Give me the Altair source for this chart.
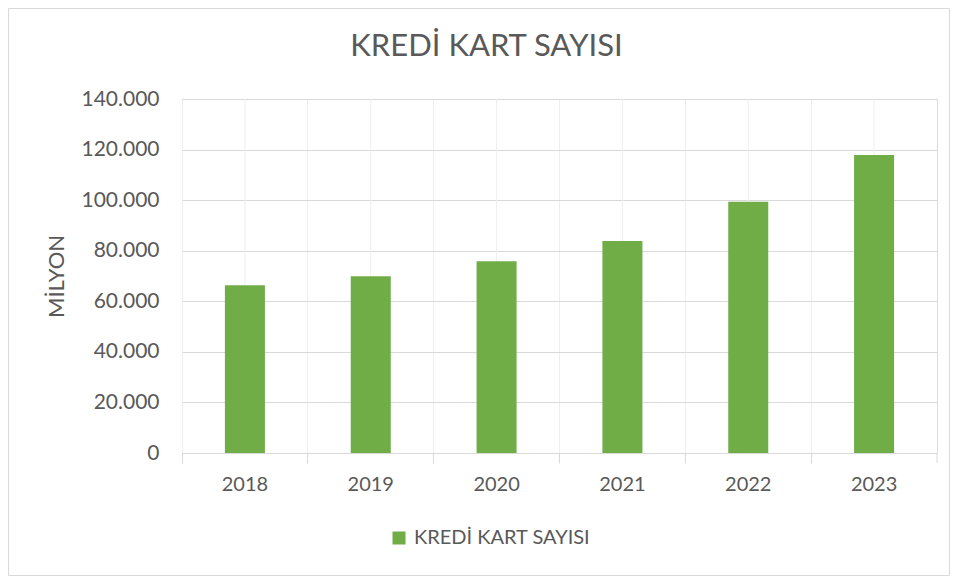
import altair as alt
import pandas as pd

years = ["2018", "2019", "2020", "2021", "2022", "2023"]
values = [66300, 69900, 75800, 83800, 99400, 117900]
series_name = "KREDİ KART SAYISI"
chart_title = "KREDİ KART SAYISI"
y_ticks = [0, 20000, 40000, 60000, 80000, 100000, 120000, 140000]

df = pd.DataFrame({"year": years, "value": values, "series": [series_name] * len(years)})
one = pd.DataFrame({"k": [0]})

W, H = 755, 354
TEXT = "#595959"
FONT = "Lato"

x_axis = alt.Axis(
    title=None,
    bandPosition=0,
    labelAngle=0,
    labelFontSize=20,
    labelColor=TEXT,
    labelFont=FONT,
    labelPadding=11,
    tickSize=10,
    tickColor="#d9d9d9",
    domainColor="#d9d9d9",
    grid=True,
    gridColor="#eeeeee",
)
x_scale = alt.Scale(domain=years, paddingInner=0, paddingOuter=0)

center_grid = alt.Chart(df).mark_rule(color="#eeeeee", strokeWidth=1).encode(
    x=alt.X("year:N", scale=x_scale, axis=x_axis, sort=years),
    y=alt.value(0),
    y2=alt.value(H),
)

bars = alt.Chart(df).mark_bar(width={"band": 0.318}).encode(
    x=alt.X("year:N", scale=x_scale, axis=x_axis, sort=years),
    y=alt.Y(
        "value:Q",
        scale=alt.Scale(domain=[0, 140000], nice=False),
        axis=alt.Axis(
            values=y_ticks,
            labelExpr="replace(format(datum.value, ','), ',', '.')",
            labelFontSize=21,
            labelColor=TEXT,
            labelFont=FONT,
            labelPadding=23,
            ticks=False,
            domain=False,
            gridColor="#d9d9d9",
            title="MİLYON",
            titleFont=FONT,
            titleFontSize=22,
            titleFontWeight="normal",
            titleColor=TEXT,
            titleAngle=270,
            titleX=-126,
            titleY=177,
            titleAlign="center",
            titleBaseline="middle",
        ),
    ),
    color=alt.Color(
        "series:N",
        scale=alt.Scale(domain=[series_name], range=["#70AD47"]),
        legend=alt.Legend(
            title=None,
            orient="none",
            legendX=207,
            legendY=429,
            symbolType="square",
            symbolSize=169,
            symbolStrokeWidth=0,
            labelFontSize=20,
            labelColor=TEXT,
            labelFont=FONT,
            labelOffset=5,
            labelLimit=0,
        ),
    ),
)

end_tick = alt.Chart(one).mark_rule(color="#d9d9d9").encode(
    x=alt.value(W), y=alt.value(H), y2=alt.value(H + 10)
)

border = alt.Chart(one).mark_rect(fill=None, stroke="#d9d9d9", strokeWidth=1).encode(
    x=alt.value(-173.5), x2=alt.value(W + 12.5), y=alt.value(-90.5), y2=alt.value(H + 122.5)
)

title_text = alt.Chart(one).mark_text(
    font=FONT, fontSize=31, color=TEXT, align="center", baseline="alphabetic"
).encode(
    x=alt.value(304.5), y=alt.value(-43), text=alt.value(chart_title)
)

chart = (
    alt.layer(center_grid, bars, end_tick, border, title_text)
    .properties(
        width=W,
        height=H,
        autosize=alt.AutoSizeParams(type="none"),
        padding={"left": 174, "top": 91, "right": 13, "bottom": 123},
    )
    .configure_view(stroke="#eeeeee")
    .configure(background="white")
)

chart.save("out.html", embed_options={"renderer": "svg", "actions": False})
